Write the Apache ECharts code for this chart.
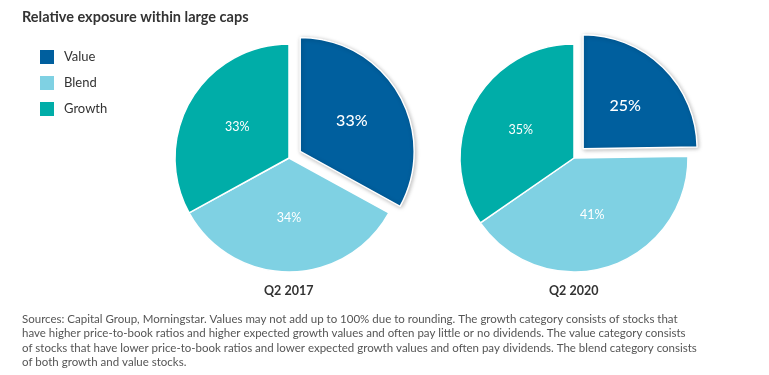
<!DOCTYPE html>
<html>
<head>
<meta charset="utf-8">
<script src="https://cdn.jsdelivr.net/npm/echarts@6/dist/echarts.min.js"></script>
<style>
  html, body { margin: 0; padding: 0; background: #fff; }
  #chart { width: 769px; height: 375px; }
</style>
</head>
<body>
<div id="chart"></div>
<script>
// categories and values
var categories = ["Value", "Blend", "Growth"];
var periods = ["Q2 2017", "Q2 2020"];
var q2_2017 = [33, 34, 33];
var q2_2020 = [25, 41, 35];
var colors = ["#005f9e", "#7fd1e3", "#00ada8"];

var noteLines = [
  "Sources: Capital Group, Morningstar. Values may not add up to 100% due to rounding. The growth category consists of stocks that",
  "have higher price-to-book ratios and higher expected growth values and often pay little or no dividends. The value category consists",
  "of stocks that have lower price-to-book ratios and lower expected growth values and often pay dividends. The blend category consists",
  "of both growth and value stocks."
];

var font = "Lato, 'Open Sans', sans-serif";

function pieData(values) {
  return categories.map(function (name, i) {
    var item = { name: name, value: values[i] };
    if (i === 0) {
      // value slice pulled out, bigger label
      item.selected = true;
      item.label = { fontSize: 16, fontWeight: 500 };
      item.itemStyle = { shadowBlur: 4, shadowColor: "rgba(0,0,0,0.25)", shadowOffsetX: 1, shadowOffsetY: 1 };
    }
    return item;
  });
}

function pieSeries(name, values, cx) {
  return {
    name: name,
    type: "pie",
    center: [cx, 158],
    radius: 114,
    startAngle: 90,
    clockwise: true,
    selectedMode: "multiple",
    selectedOffset: 13,
    silent: true,
    animation: false,
    itemStyle: { borderColor: "#fff", borderWidth: 1.5 },
    label: {
      show: true,
      position: "inside",
      color: "#fff",
      fontSize: 12.5,
      fontFamily: font,
      formatter: "{c}%"
    },
    labelLine: { show: false },
    emphasis: { disabled: true },
    select: { itemStyle: { borderColor: "#fff" } },
    data: pieData(values)
  };
}

var myChart = echarts.init(document.getElementById("chart"));
var option = {
  color: colors,
  animation: false,
  title: {
    text: "Relative exposure within large caps",
    left: 17,
    top: 5,
    textStyle: { fontSize: 14.5, fontWeight: "bold", color: "#333", fontFamily: font }
  },
  legend: {
    orient: "vertical",
    left: 33,
    top: 43,
    icon: "rect",
    itemWidth: 16,
    itemHeight: 16,
    itemGap: 8,
    selectedMode: false,
    data: categories,
    textStyle: { fontSize: 13, color: "#333", fontFamily: font, padding: [0, 0, 0, 4] }
  },
  graphic: [
    {
      type: "text",
      left: 289 - 25, top: 284,
      style: { text: periods[0], fill: "#333", font: "bold 12.5px " + font, width: 50, align: "center" }
    },
    {
      type: "text",
      left: 574 - 25, top: 284,
      style: { text: periods[1], fill: "#333", font: "bold 12.5px " + font, width: 50, align: "center" }
    },
    {
      type: "text",
      left: 22, top: 312,
      style: {
        text: noteLines.join("\n"),
        fill: "#555",
        fontSize: 11.5,
        fontFamily: font,
        lineHeight: 14.5
      }
    }
  ],
  series: [
    pieSeries(periods[0], q2_2017, 289),
    pieSeries(periods[1], q2_2020, 574)
  ]
};
myChart.setOption(option);
</script>
</body>
</html>
